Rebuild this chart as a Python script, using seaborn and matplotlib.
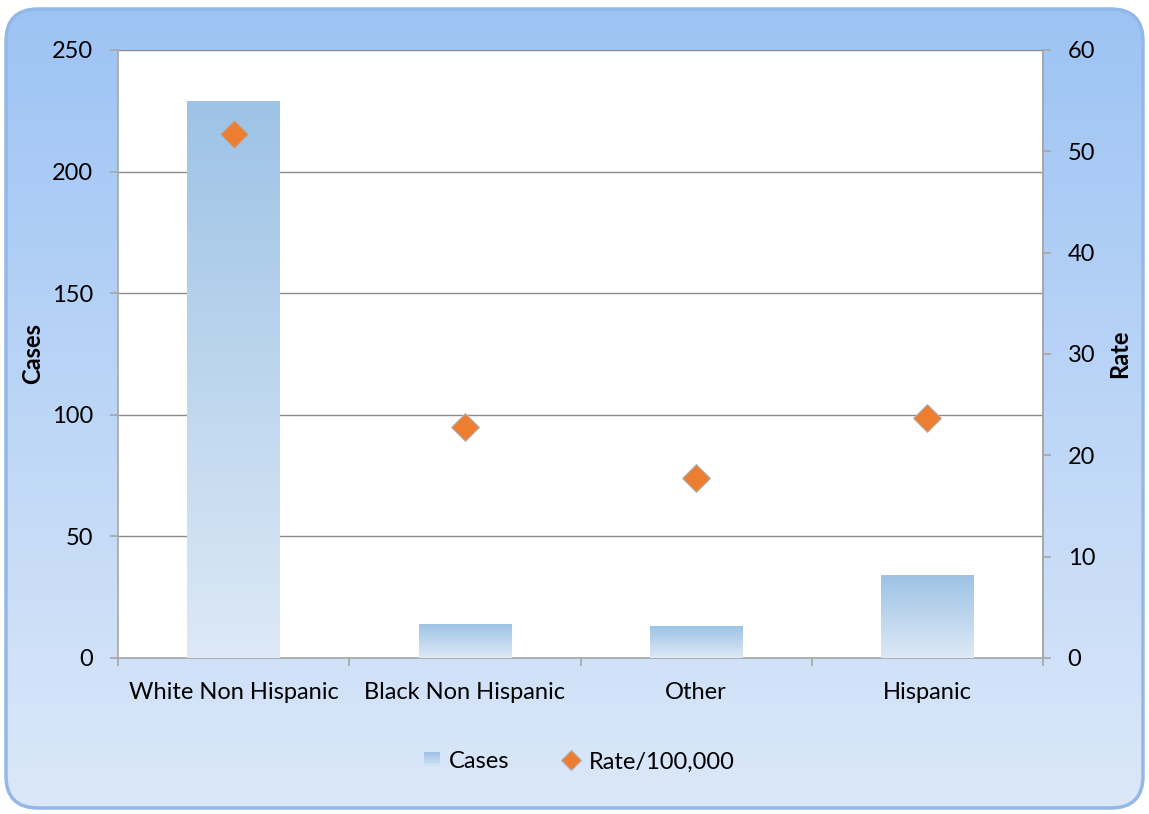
import numpy as np
import pandas as pd
import matplotlib
matplotlib.use("Agg")
import matplotlib.pyplot as plt
import seaborn as sns
from matplotlib.patches import FancyBboxPatch, Rectangle
from matplotlib.lines import Line2D
from matplotlib.colors import LinearSegmentedColormap
from matplotlib.legend_handler import HandlerPatch

categories = ["White Non Hispanic", "Black Non Hispanic", "Other", "Hispanic"]
cases = [229, 14, 13, 34]
rates = [51.7, 22.8, 17.8, 23.7]

df = pd.DataFrame({"group": categories, "cases": cases, "rate": rates})

sns.set_theme(style="white")
plt.rcParams["font.family"] = ["Lato", "DejaVu Sans"]
plt.rcParams["text.color"] = "black"
plt.rcParams["axes.labelcolor"] = "black"
plt.rcParams["xtick.color"] = "black"
plt.rcParams["ytick.color"] = "black"

W, H = 1149, 814
FS = 17
fig = plt.figure(figsize=(W / 100, H / 100), dpi=100)
fig.patch.set_facecolor("white")

# rounded gradient background
bg = fig.add_axes([0, 0, 1, 1], zorder=-5)
bg.set_xlim(0, W)
bg.set_ylim(H, 0)
bg.axis("off")
bg_cmap = LinearSegmentedColormap.from_list("bg", ["#9cc3f4", "#dce8f9"])
grad = np.linspace(0, 1, 256).reshape(-1, 1)
im = bg.imshow(grad, cmap=bg_cmap, extent=[0, W, H, 0], aspect="auto", zorder=0)
box = FancyBboxPatch((6, 9), W - 12, H - 15, boxstyle="round,pad=0,rounding_size=32",
                     transform=bg.transData, facecolor="none", edgecolor="#94b8e6", lw=2.5, zorder=1)
bg.add_patch(box)
im.set_clip_path(box)

ax = fig.add_axes([118 / W, 1 - 658 / H, (1043 - 118) / W, (658 - 50) / H])
ax.set_facecolor("white")

sns.barplot(data=df, x="group", y="cases", ax=ax, width=0.4, color="#9dc3e6",
            saturation=1, zorder=3)

# gradient fill on bars
bar_cmap = LinearSegmentedColormap.from_list("bar", ["#dde9f6", "#9dc3e6"])
for p in ax.patches:
    x0, y0 = p.get_x(), p.get_y()
    w, h = p.get_width(), p.get_height()
    p.set_facecolor("none")
    p.set_edgecolor("none")
    g = ax.imshow(np.linspace(0, 1, 256).reshape(-1, 1), cmap=bar_cmap, origin="lower",
                  extent=[x0, x0 + w, y0, y0 + h], aspect="auto", zorder=3)
    g.set_clip_path(p)
ax.set_xlim(-0.5, 3.5)
ax.set_ylim(0, 250)

ax.set_yticks(range(0, 251, 50))
ax.yaxis.grid(True, color="#8c8c8c", lw=1)
ax.set_axisbelow(True)
ax.set_xlabel("")
ax.set_ylabel("Cases", fontsize=FS, fontweight="bold", labelpad=6)
ax.spines["top"].set_visible(False)
for s in ["left", "bottom", "right"]:
    ax.spines[s].set_color("#a6a6a6")
    ax.spines[s].set_linewidth(1.2)
ax.tick_params(axis="y", which="major", length=5.8, color="#a6a6a6", width=1.2,
               labelsize=FS, pad=12, left=True)
ax.tick_params(axis="x", which="major", length=0, labelsize=FS, pad=17)
ax.set_xticks(np.arange(-0.5, 3.6, 1), minor=True)
ax.tick_params(axis="x", which="minor", length=5.8, color="#a6a6a6", width=1.2, bottom=True)

ax2 = ax.twinx()
sns.scatterplot(data=df, x="group", y="rate", ax=ax2, marker="D", s=200,
                color="#ed7d31", edgecolor="#b0b0b0", linewidth=0.8, zorder=5)
ax2.set_ylim(0, 60)
ax2.set_xlim(-0.5, 3.5)
ax2.set_yticks(range(0, 61, 10))
ax2.set_ylabel("Rate", fontsize=FS, fontweight="bold", labelpad=9, rotation=90)
ax2.yaxis.set_label_position("right")
ax2.yaxis.tick_right()
ax2.tick_params(axis="y", which="major", length=5.8, color="#a6a6a6", width=1.2,
                labelsize=FS, pad=12, right=True, left=False, labelright=True, labelleft=False)
for s in ["top", "left", "bottom"]:
    ax2.spines[s].set_visible(False)
ax2.spines["right"].set_color("#a6a6a6")
ax2.spines["right"].set_linewidth(1.2)
ax2.grid(False)


class GradHandler(HandlerPatch):
    def create_artists(self, legend, orig_handle, xdescent, ydescent, width, height, fontsize, trans):
        s = height
        x = xdescent + width - s - 2
        arts = []
        n = 12
        for i in range(n):
            c = bar_cmap(i / (n - 1))
            r = Rectangle((x, -ydescent + s * i / n), s, s / n + 0.3, facecolor=c, edgecolor="none",
                          transform=trans)
            arts.append(r)
        return arts


h1 = Rectangle((0, 0), 1, 1, facecolor="#9dc3e6")
h2 = Line2D([], [], marker="D", linestyle="none", markersize=10, markerfacecolor="#ed7d31",
            markeredgecolor="#b0b0b0", markeredgewidth=0.8)
fig.legend([h1, h2], ["Cases", "Rate/100,000"], loc="center", bbox_to_anchor=(577 / W, 1 - 762 / H),
           ncol=2, frameon=False, fontsize=FS, handler_map={Rectangle: GradHandler()},
           handlelength=1.0, handletextpad=0.25, columnspacing=2.1)

fig.savefig("out.png", dpi=100)
